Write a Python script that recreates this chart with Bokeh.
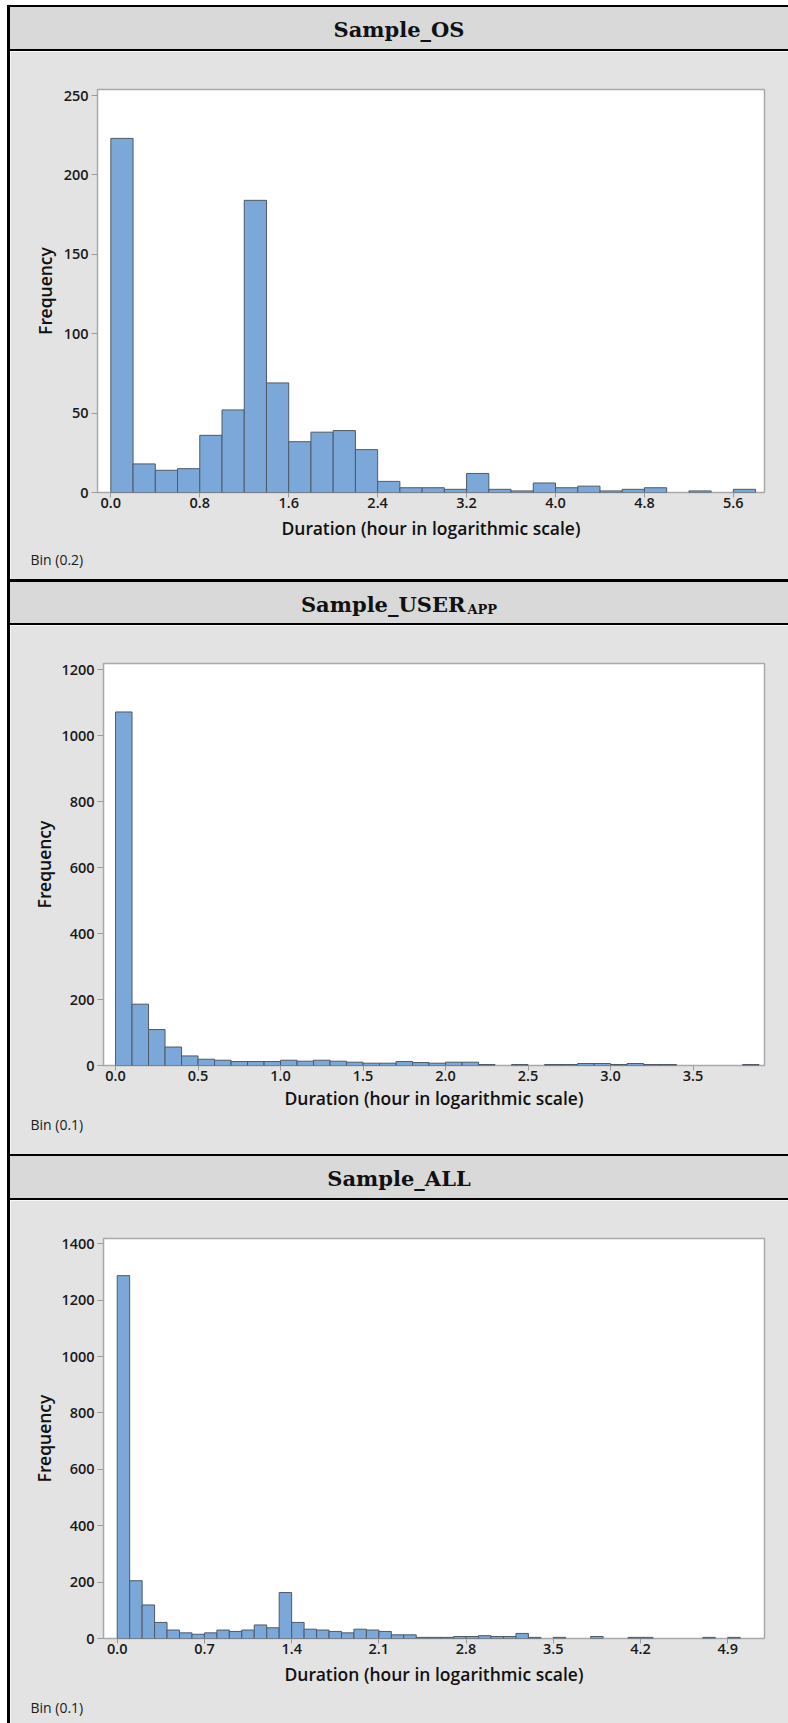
import numpy as np
from bokeh.plotting import figure
from bokeh.models import FixedTicker, NumeralTickFormatter, Range1d, ColumnDataSource, Div, Title
from bokeh.layouts import column, row
from bokeh.embed import file_html
from bokeh.resources import INLINE

# Frequency per bin of session duration (hour, logarithmic scale)
os_bin_width = 0.2
os_counts = [223, 18, 14, 15, 36, 52, 184, 69, 32, 38, 39, 27, 7,
             3, 3, 2, 12, 2, 1, 6, 3, 4, 1, 2, 3, 0, 1, 0, 2]
os_xticks = [0.0, 0.8, 1.6, 2.4, 3.2, 4.0, 4.8, 5.6]
os_yticks = [0, 50, 100, 150, 200, 250]

userapp_bin_width = 0.1
userapp_counts = [1072, 186, 109, 56, 29, 19, 16, 12, 12, 12, 16, 13, 16, 13, 10, 7, 7, 12, 9, 7,
                  10, 10, 3, 0, 3, 0, 3, 3, 6, 6, 3, 6, 3, 3, 0, 0, 0, 0, 3]
userapp_xticks = [0.0, 0.5, 1.0, 1.5, 2.0, 2.5, 3.0, 3.5]
userapp_yticks = [0, 200, 400, 600, 800, 1000, 1200]

all_bin_width = 0.1
all_counts = [1287, 205, 119, 57, 30, 20, 15, 20, 30, 25, 30, 48, 38, 163, 57, 33, 30, 25, 20, 33,
              30, 25, 13, 13, 4, 4, 4, 7, 7, 10, 7, 7, 18, 4, 0, 4, 0, 0, 7, 0,
              0, 4, 4, 0, 0, 0, 0, 4, 0, 4, 0, 0]
all_xticks = [0.0, 0.7, 1.4, 2.1, 2.8, 3.5, 4.2, 4.9]
all_yticks = [0, 200, 400, 600, 800, 1000, 1200, 1400]

PANEL_BG = "#e3e3e3"
HEADER_BG = "#d9d9d9"
BAR_FILL = "#7ba7d9"
BAR_EDGE = "#4f5a66"
FRAME = "#a9a9a9"
TICK = "#9b9b9b"
SANS = "Open Sans"
SANS_SEMI = "Open Sans SemiBold, Open Sans"
PANEL_W = 778


def header(title_html, top, bottom, gray_h, pad_top=0):
    total = pad_top + top + gray_h + bottom
    html = (
        f'<div style="width:{PANEL_W}px;height:{total}px;margin:0;padding:0;">'
        f'<div style="height:{pad_top}px;"></div>'
        f'<div style="box-sizing:content-box;width:{PANEL_W}px;height:{gray_h}px;'
        f'background:{HEADER_BG};border-top:{top}px solid #000;border-bottom:{bottom}px solid #000;'
        f'text-align:center;line-height:{gray_h + 4}px;white-space:nowrap;'
        f"font-family:'DejaVu Serif';font-weight:bold;font-size:21px;color:#111;\">"
        f'{title_html}</div></div>'
    )
    return Div(text=html, width=PANEL_W, height=total, margin=0)


def histogram(counts, bin_w, xticks, yticks, x_start, x_end, y_end, bin_text,
              height, left, frame_h, ylab_standoff, xlab_standoff, bin_standoff):
    bottom_border = height - 38 - frame_h
    p = figure(width=PANEL_W, height=height,
               x_range=Range1d(x_start, x_end), y_range=Range1d(0, y_end),
               toolbar_location=None, output_backend="svg",
               min_border_left=left, min_border_right=24,
               min_border_top=38, min_border_bottom=bottom_border,
               background_fill_color="#ffffff", border_fill_color=PANEL_BG,
               outline_line_color=FRAME, outline_line_width=1.5)
    p.grid.visible = False

    edges = np.arange(len(counts) + 1) * bin_w
    c = np.asarray(counts)
    keep = c > 0
    src = ColumnDataSource(dict(left=edges[:-1][keep], right=edges[1:][keep], top=c[keep]))
    p.quad(left="left", right="right", bottom=0, top="top", source=src,
           fill_color=BAR_FILL, line_color=BAR_EDGE, line_width=1)

    p.xaxis.ticker = FixedTicker(ticks=xticks)
    p.xaxis.formatter = NumeralTickFormatter(format="0.0")
    p.yaxis.ticker = FixedTicker(ticks=yticks)
    p.yaxis.formatter = NumeralTickFormatter(format="0")
    for ax in (p.xaxis[0], p.yaxis[0]):
        ax.axis_line_color = None
        ax.major_tick_line_color = TICK
        ax.major_tick_in = 0
        ax.minor_tick_line_color = None
        ax.major_label_text_font = SANS_SEMI
        ax.major_label_text_font_size = "14.5px"
        ax.major_label_text_color = "#1a1a1a"
        ax.axis_label_text_font = SANS_SEMI
        ax.axis_label_text_font_size = "17.5px"
        ax.axis_label_text_font_style = "normal"
        ax.axis_label_text_color = "#111111"
    p.xaxis.major_tick_out = 5
    p.xaxis.major_label_standoff = 0
    p.xaxis.axis_label_standoff = xlab_standoff
    p.yaxis.major_tick_out = 6
    p.yaxis.major_label_standoff = 3
    p.yaxis.axis_label_standoff = ylab_standoff
    p.xaxis.axis_label = "Duration (hour in logarithmic scale)"
    p.yaxis.axis_label = "Frequency"

    p.add_layout(Title(text=bin_text, align="left", offset=20 - left, standoff=bin_standoff,
                       text_font=SANS, text_font_size="14px", text_font_style="normal",
                       text_color="#1a1a1a"), "below")
    return p


hdr1 = header("Sample_OS", 2, 2, 42, pad_top=5)
fig1 = histogram(os_counts, os_bin_width, os_xticks, os_yticks, -0.12, 5.88, 253.8,
                 "Bin (0.2)", 528, 87, 403, 4, 5, 11)
hdr2 = header('Sample_USER<span style="font-size:13px;line-height:0;position:relative;'
              'top:2px;margin-left:2px;">APP</span>', 3, 2, 41)
fig2 = histogram(userapp_counts, userapp_bin_width, userapp_xticks, userapp_yticks,
                 -0.073, 3.933, 1219, "Bin (0.1)", 529, 93, 402, 2, 2, 0)
hdr3 = header("Sample_ALL", 2, 2, 42)
fig3 = histogram(all_counts, all_bin_width, all_xticks, all_yticks,
                 -0.11, 5.195, 1418.8, "Bin (0.1)", 523, 93, 401, 2, 5, 14)

# black rule down the left edge of the stacked panels
strip = Div(width=10, height=1723, margin=0,
            text='<div style="position:relative;width:10px;height:1723px;">'
                 '<div style="position:absolute;left:7px;top:5px;width:3px;height:1718px;'
                 'background:#000;"></div></div>')

panels = column(hdr1, row(fig1), hdr2, row(fig2), hdr3, row(fig3))
layout = row(strip, panels)

open("out.html", "w").write(file_html(layout, INLINE))
